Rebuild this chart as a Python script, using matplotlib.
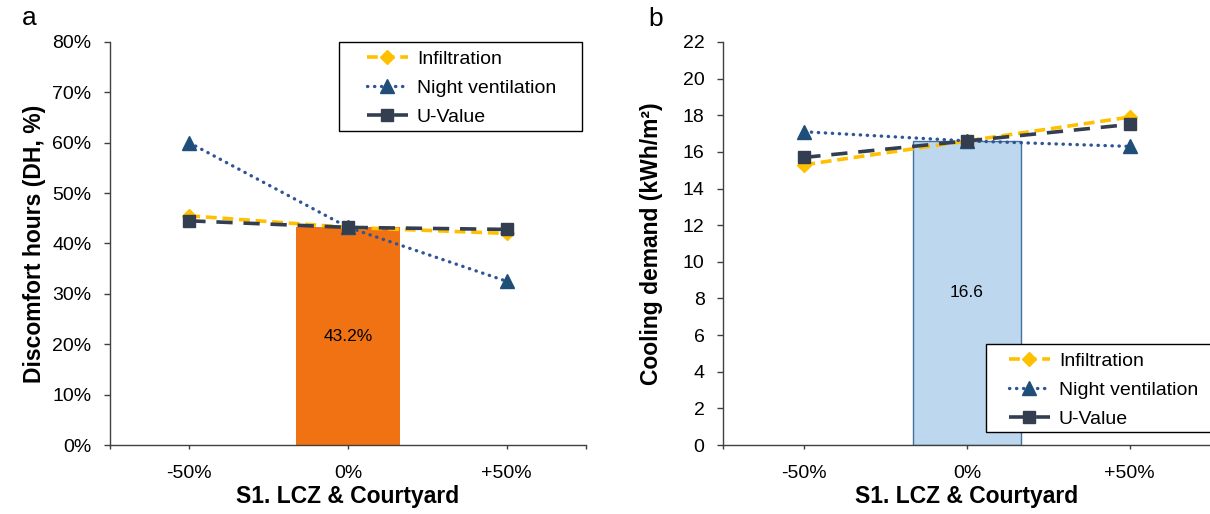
import matplotlib.pyplot as plt
from matplotlib.patches import Rectangle
from matplotlib.ticker import FuncFormatter

plt.rcParams['font.family'] = ['Liberation Sans', 'DejaVu Sans']

W, H = 1210, 514

levels = ['-50%', '0%', '+50%']
series = ['Infiltration', 'Night ventilation', 'U-Value']

# panel a: discomfort hours (%)
dh_infiltration = [45.5, 43.2, 42.0]
dh_night_vent = [60.0, 43.2, 32.5]
dh_uvalue = [44.5, 43.2, 42.8]
dh_base = 43.2

# panel b: cooling demand (kWh/m2)
cd_infiltration = [15.3, 16.6, 17.9]
cd_night_vent = [17.1, 16.6, 16.3]
cd_uvalue = [15.7, 16.6, 17.5]
cd_base = 16.6

styles = [
    dict(color='#FFC000', lw=2.6, ls=(0, (3, 1.6)), marker='D', ms=7,
         mfc='#FFC000', mec='#FFC000'),
    dict(color='#2F5597', lw=2.4, ls=(0, (0.1, 2.0)), dash_capstyle='round',
         marker='^', ms=10, mfc='#1F4E79', mec='#1F4E79'),
    dict(color='#333F50', lw=2.6, ls=(0, (4.5, 3)), marker='s', ms=8.5,
         mfc='#333F50', mec='#333F50'),
]

fig = plt.figure(figsize=(W / 100, H / 100), dpi=100)
ax_a = fig.add_axes([110 / W, 1 - 445 / H, 476 / W, 403 / H])
ax_b = fig.add_axes([723 / W, 1 - 445 / H, 488 / W, 403 / H])

x = list(range(len(levels)))


def setup(ax, ymax, step, ylabel, lab_x):
    for s in ['top', 'right']:
        ax.spines[s].set_visible(False)
    for s in ['left', 'bottom']:
        ax.spines[s].set_color('#404040')
        ax.spines[s].set_linewidth(1.0)
    ax.set_xlim(-0.5, 2.5)
    ax.set_ylim(0, ymax)
    ax.set_yticks(range(0, ymax + 1, step))
    ax.set_xticks([-0.5] + x + [2.5])
    ax.set_xticklabels([''] + levels + [''])
    ax.tick_params(axis='y', direction='out', length=4.3, width=1,
                   color='#404040', pad=9, labelsize=14)
    ax.tick_params(axis='x', direction='out', length=3, width=1,
                   color='#404040', pad=11.5, labelsize=14)
    ax.set_xlabel('S1. LCZ & Courtyard', fontsize=16.5, fontweight='bold')
    ax.xaxis.set_label_coords(0.5, (445 - 485) / 403)
    ax.set_ylabel(ylabel, fontsize=16.5, fontweight='bold')
    ax.yaxis.set_label_coords(lab_x, 0.5)


def add_legend(ax, hx, hy, box):
    bx0, by0, bx1, by1 = box
    ax.add_patch(Rectangle((bx0 / W, 1 - by1 / H), (bx1 - bx0) / W,
                           (by1 - by0) / H, transform=fig.transFigure,
                           facecolor='white', edgecolor='black', lw=1.0,
                           clip_on=False, zorder=4.5))
    leg = ax.legend(loc='center left', bbox_to_anchor=(hx / W, 1 - hy / H),
                    bbox_transform=fig.transFigure, frameon=False,
                    fontsize=14, numpoints=1, handlelength=2.1,
                    handletextpad=0.46, labelspacing=0.6, borderpad=0,
                    borderaxespad=0)
    leg.set_zorder(5)


# panel a
setup(ax_a, 80, 10, 'Discomfort hours (DH, %)', (46 - 110) / 476)
ax_a.yaxis.set_major_formatter(FuncFormatter(lambda v, p: f'{v:.0f}%'))
ax_a.bar([1], [dh_base], width=0.66, color='#F07213', zorder=1)
ax_a.text(1, dh_base / 2, f'{dh_base}%', ha='center', va='center',
          fontsize=12.5, zorder=2)
for vals, name, st in zip([dh_infiltration, dh_night_vent, dh_uvalue],
                          series, styles):
    ax_a.plot(x, vals, label=name, zorder=3, clip_on=False, **st)
add_legend(ax_a, 367, 88, (339, 42, 582, 131))

# panel b
setup(ax_b, 22, 2, 'Cooling demand (kWh/m²)', (663 - 723) / 488)
ax_b.bar([1], [cd_base], width=0.67, color='#BDD7EE', edgecolor='#41719C',
         lw=1.0, zorder=1)
ax_b.text(1, cd_base / 2, f'{cd_base}', ha='center', va='center',
          fontsize=12.5, zorder=2)
for vals, name, st in zip([cd_infiltration, cd_night_vent, cd_uvalue],
                          series, styles):
    ax_b.plot(x, vals, label=name, zorder=3, clip_on=False, **st)
add_legend(ax_b, 1009, 390, (986, 344, 1220, 432))

fig.text(22 / W, 1 - 25 / H, 'a', fontsize=19, ha='left', va='baseline')
fig.text(648 / W, 1 - 26 / H, 'b', fontsize=19, ha='left', va='baseline')

fig.savefig('out.png', dpi=100)
